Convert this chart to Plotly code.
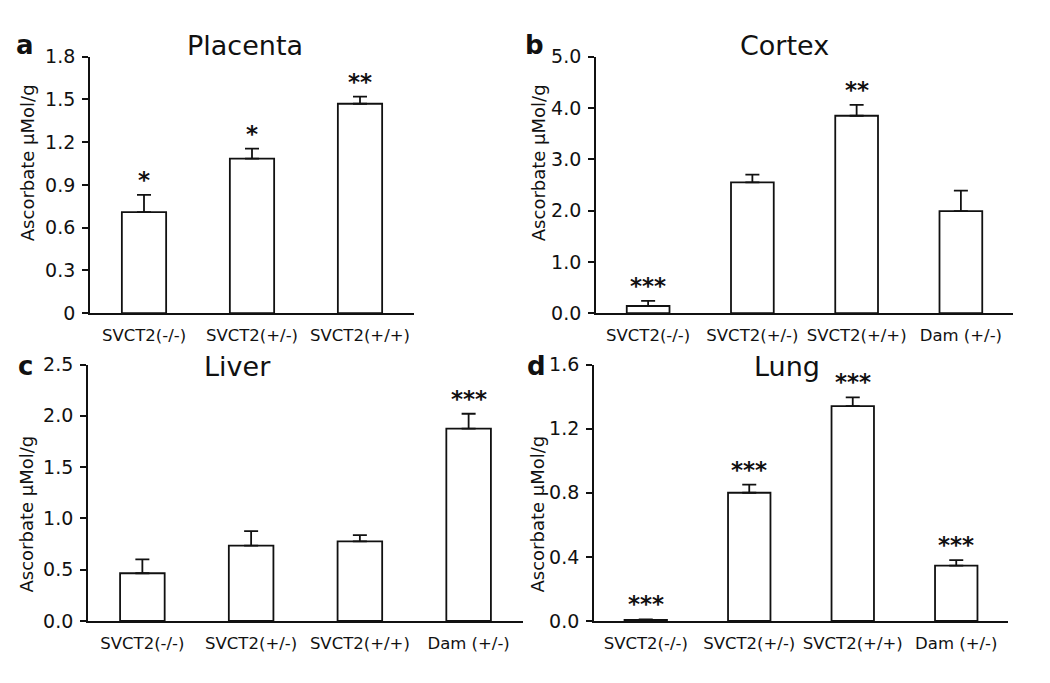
import plotly.graph_objects as go

# ---------------- data ----------------
cats3 = ["SVCT2(-/-)", "SVCT2(+/-)", "SVCT2(+/+)"]
cats4 = ["SVCT2(-/-)", "SVCT2(+/-)", "SVCT2(+/+)", "Dam (+/-)"]

placenta_mean = [0.71, 1.085, 1.47]
placenta_err = [0.12, 0.07, 0.05]
placenta_sig = ["*", "*", "**"]

cortex_mean = [0.14, 2.55, 3.85, 1.99]
cortex_err = [0.10, 0.15, 0.21, 0.40]
cortex_sig = ["***", "", "**", ""]

liver_mean = [0.465, 0.735, 0.776, 1.875]
liver_err = [0.135, 0.14, 0.06, 0.145]
liver_sig = ["", "", "", "***"]

lung_mean = [0.006, 0.80, 1.34, 0.345]
lung_err = [0.004, 0.05, 0.055, 0.035]
lung_sig = ["***", "***", "***", "***"]

placenta_ticks = [0, 0.3, 0.6, 0.9, 1.2, 1.5, 1.8]
placenta_ticktext = ["0", "0.3", "0.6", "0.9", "1.2", "1.5", "1.8"]
cortex_ticks = [0, 1, 2, 3, 4, 5]
cortex_ticktext = ["0.0", "1.0", "2.0", "3.0", "4.0", "5.0"]
liver_ticks = [0, 0.5, 1.0, 1.5, 2.0, 2.5]
liver_ticktext = ["0.0", "0.5", "1.0", "1.5", "2.0", "2.5"]
lung_ticks = [0, 0.4, 0.8, 1.2, 1.6]
lung_ticktext = ["0.0", "0.4", "0.8", "1.2", "1.6"]

titles = ["Placenta", "Cortex", "Liver", "Lung"]
letters = ["a", "b", "c", "d"]
ytitle = "Ascorbate \u03bcMol/g"

# ---------------- layout geometry ----------------
W, H = 1050, 683
OFF = 8  # page body margin
FONT = "DejaVu Sans"


def fx(px):
    return (px - OFF) / W


def fy(py):
    return 1 - (py - OFF) / H


panels = [
    dict(cats=cats3, mean=placenta_mean, err=placenta_err, sig=placenta_sig,
         ticks=placenta_ticks, ticktext=placenta_ticktext, ymax=1.8,
         x0=90, x1=414, y0=47, y1=312,
         title_xy=(245, 35), letter_xy=(25, 35), ytitle_xy=(27, 157)),
    dict(cats=cats4, mean=cortex_mean, err=cortex_err, sig=cortex_sig,
         ticks=cortex_ticks, ticktext=cortex_ticktext, ymax=5.0,
         x0=596, x1=1013, y0=47, y1=312,
         title_xy=(784, 35), letter_xy=(534, 35), ytitle_xy=(538, 157)),
    dict(cats=cats4, mean=liver_mean, err=liver_err, sig=liver_sig,
         ticks=liver_ticks, ticktext=liver_ticktext, ymax=2.5,
         x0=88, x1=523, y0=365, y1=630,
         title_xy=(237, 367), letter_xy=(25, 367), ytitle_xy=(27, 520)),
    dict(cats=cats4, mean=lung_mean, err=lung_err, sig=lung_sig,
         ticks=lung_ticks, ticktext=lung_ticktext, ymax=1.6,
         x0=594, x1=1008, y0=365, y1=630,
         title_xy=(787, 367), letter_xy=(536, 367), ytitle_xy=(538, 520)),
]

fig = go.Figure()
annotations = []

for i, p in enumerate(panels):
    n = i + 1
    xa = "x" if n == 1 else f"x{n}"
    ya = "y" if n == 1 else f"y{n}"
    fig.add_trace(go.Bar(
        x=list(range(len(p["cats"]))), y=p["mean"],
        xaxis=xa, yaxis=ya, width=0.41,
        marker=dict(color="white", line=dict(color="#111111", width=1.8)),
        error_y=dict(type="data", symmetric=False, array=p["err"],
                     arrayminus=[0] * len(p["err"]),
                     color="#111111", thickness=1.8, width=7),
        showlegend=False, hoverinfo="skip",
    ))
    xkey = "xaxis" if n == 1 else f"xaxis{n}"
    ykey = "yaxis" if n == 1 else f"yaxis{n}"
    fig.update_layout(**{
        xkey: dict(domain=[fx(p["x0"]), fx(p["x1"])], anchor=ya,
                   range=[-0.5, len(p["cats"]) - 0.5],
                   tickvals=list(range(len(p["cats"]))), ticktext=p["cats"],
                   showline=True, linecolor="#111111", linewidth=1.8,
                   ticks="", showgrid=False, zeroline=False,
                   ticklabelstandoff=6,
                   tickfont=dict(family=FONT, size=16.5, color="#111111"),
                   fixedrange=True),
        ykey: dict(domain=[fy(p["y1"]), fy(p["y0"])], anchor=xa,
                   range=[0, p["ymax"]],
                   tickvals=p["ticks"], ticktext=p["ticktext"],
                   showline=True, linecolor="#111111", linewidth=1.8,
                   ticks="outside", ticklen=6, tickwidth=1.8, tickcolor="#111111",
                   ticklabelstandoff=3,
                   showgrid=False, zeroline=False,
                   tickfont=dict(family=FONT, size=19, color="#111111"),
                   fixedrange=True),
    })
    # significance stars
    for j, s in enumerate(p["sig"]):
        if s:
            annotations.append(dict(
                x=j, y=p["mean"][j] + p["err"][j], xref=xa, yref=ya,
                text=f"<b>{s}</b>", showarrow=False, yanchor="middle", yshift=15,
                font=dict(family=FONT, size=23, color="#111111")))
    # panel title
    tx, ty = p["title_xy"]
    annotations.append(dict(x=fx(tx), y=fy(ty), xref="paper", yref="paper",
                            text=titles[i], showarrow=False,
                            xanchor="center", yanchor="middle",
                            font=dict(family=FONT, size=27, color="#111111")))
    lx, ly = p["letter_xy"]
    annotations.append(dict(x=fx(lx), y=fy(ly), xref="paper", yref="paper",
                            text=f"<b>{letters[i]}</b>", showarrow=False,
                            xanchor="center", yanchor="middle",
                            font=dict(family=FONT, size=26, color="#111111")))
    ax_, ay_ = p["ytitle_xy"]
    annotations.append(dict(x=fx(ax_), y=fy(ay_), xref="paper", yref="paper",
                            text=ytitle, showarrow=False, textangle=-90,
                            xanchor="center", yanchor="middle",
                            font=dict(family=FONT, size=18, color="#111111")))

fig.update_layout(
    width=W, height=H,
    margin=dict(l=0, r=0, t=0, b=0),
    paper_bgcolor="white", plot_bgcolor="white",
    annotations=annotations,
)

fig.write_html("out.html")
